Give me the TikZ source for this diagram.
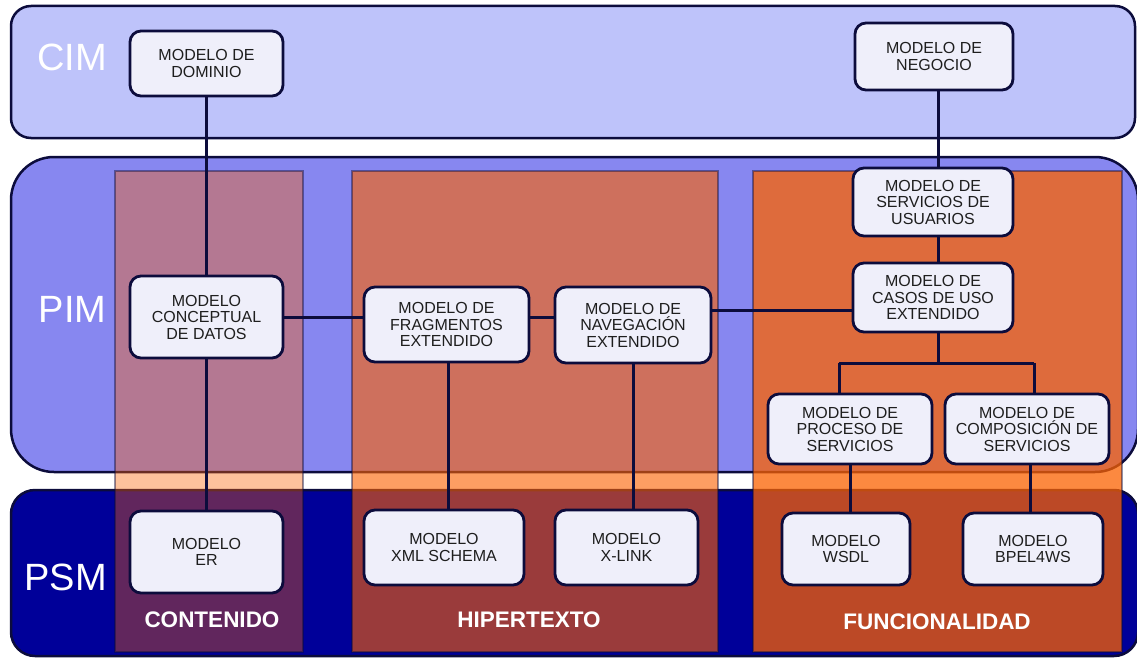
\documentclass[tikz,border=0pt]{standalone}
\usepackage{fontspec}
\setmainfont{Liberation Sans}
\pgfdeclarelayer{bg}
\pgfdeclarelayer{mid}
\pgfsetlayers{bg,mid,main}
\definecolor{edge}{RGB}{12,12,60}
\definecolor{cimfill}{RGB}{190,195,250}
\definecolor{pimfill}{RGB}{135,135,240}
\definecolor{psmfill}{RGB}{0,0,153}
\definecolor{nodefill}{RGB}{239,239,250}
\definecolor{orng}{RGB}{252,98,0}
\definecolor{txt}{RGB}{30,30,30}
\begin{document}
\begin{tikzpicture}[x=1pt,y=-1pt,
  band/.style={draw=edge, line width=2.5pt, rounded corners=#1},
  column/.style={fill=orng, fill opacity=#1, draw=edge, draw opacity=0.45, line width=2pt},
  bandlabel/.style={text=white, font=\fontsize{38}{40}\selectfont, inner sep=0pt},
  collabel/.style={text=white, font=\bfseries\fontsize{22.5}{24}\selectfont, inner sep=0pt},
  mnode/.style={draw=edge, line width=2.8pt, fill=nodefill, rounded corners=11pt,
    text=txt, font=\fontsize{16}{16.5}\selectfont, align=center, inner sep=0pt},
  link/.style={draw=edge, line width=3pt}]

\useasboundingbox (0,0) rectangle (1137,658);

% ---- levels and columns ----
\begin{pgfonlayer}{bg}
  \fill[white] (0,0) rectangle (1137,658);
  \path[band=20pt, fill=cimfill] (11,6) rectangle (1135,138);
  \path[band=43pt, fill=pimfill] (11,157) rectangle (1138,472);
  \path[band=24pt, fill=psmfill] (11,490) rectangle (1138,656);
  \path[column=0.39] (115,171) rectangle (303,652);
  \path[column=0.61] (352,171) rectangle (718,652);
  \path[column=0.75] (753,171) rectangle (1122,652);
\end{pgfonlayer}

\node[bandlabel] (lcim) at (72,57.5) {CIM};
\node[bandlabel] (lpim) at (72.5,309) {PIM};
\node[bandlabel] (lpsm) at (65.5,577) {PSM};

\node[collabel] (lcont) at (212,620) {CONTENIDO};
\node[collabel] (lhip) at (529,620) {HIPERTEXTO};
\node[collabel] (lfun) at (937,622) {FUNCIONALIDAD};

% ---- models ----
\node[mnode, minimum width=153pt, minimum height=65pt] (dom) at (206.5,63.5) {MODELO DE\\DOMINIO};
\node[mnode, minimum width=158pt, minimum height=67pt] (neg) at (934,56.5) {MODELO DE\\NEGOCIO};
\node[mnode, minimum width=153pt, minimum height=82pt] (conc) at (206.5,317) {MODELO\\CONCEPTUAL\\DE DATOS};
\node[mnode, minimum width=165pt, minimum height=75pt] (frag) at (446.5,324.5) {MODELO DE\\FRAGMENTOS\\EXTENDIDO};
\node[mnode, minimum width=156pt, minimum height=76pt] (nav) at (633,325) {MODELO DE\\NAVEGACIÓN\\EXTENDIDO};
\node[mnode, minimum width=160pt, minimum height=68pt] (serv) at (933,202) {MODELO DE\\SERVICIOS DE\\USUARIOS};
\node[mnode, minimum width=160pt, minimum height=69pt] (casos) at (933,297.5) {MODELO DE\\CASOS DE USO\\EXTENDIDO};
\node[mnode, minimum width=164pt, minimum height=70pt] (proc) at (850,429) {MODELO DE\\PROCESO DE\\SERVICIOS};
\node[mnode, minimum width=164pt, minimum height=70pt] (comp) at (1027,429) {MODELO DE\\COMPOSICIÓN DE\\SERVICIOS};
\node[mnode, minimum width=153pt, minimum height=82pt] (er) at (206.5,552) {MODELO\\ER};
\node[mnode, minimum width=160pt, minimum height=75pt] (xml) at (444,547.5) {MODELO\\XML SCHEMA};
\node[mnode, minimum width=143pt, minimum height=75pt] (xlink) at (626.5,547.5) {MODELO\\X-LINK};
\node[mnode, minimum width=128pt, minimum height=72pt] (wsdl) at (846,549) {MODELO\\WSDL};
\node[mnode, minimum width=140pt, minimum height=72pt] (bpel) at (1033,549) {MODELO\\BPEL4WS};

% ---- connectors ----
\coordinate (navout) at ([yshift=15pt]nav.east);
\coordinate (forkl) at (839,363);
\coordinate (forkr) at (1034,363);
\begin{pgfonlayer}{mid}
  \draw[link] (dom.south) -- (conc.north);
  \draw[link] (conc.south) -- (er.north);
  \draw[link] (conc.east) -- (frag.west |- conc.east);
  \draw[link] (frag.east |- conc.east) -- (nav.west |- conc.east);
  \draw[link] (navout) -- (casos.west |- navout);
  \draw[link] ([xshift=2pt]frag.south) -- ([xshift=2pt]frag.south |- xml.north);
  \draw[link] (nav.south) -- (nav.south |- xlink.north);
  \draw[link] ([xshift=4pt]neg.south) -- ([xshift=4pt]neg.south |- serv.north);
  \draw[link] ([xshift=5pt]serv.south) -- ([xshift=5pt]serv.south |- casos.north);
  \draw[link] ([xshift=5pt]casos.south) -- ([xshift=5pt]casos.south |- forkl);
  \draw[link] (forkl) -- (forkr);
  \draw[link] (forkl) -- (forkl |- proc.north);
  \draw[link] (forkr) -- (forkr |- comp.north);
  \draw[link] (proc.south) -- (proc.south |- wsdl.north);
  \draw[link] ([xshift=3pt]comp.south) -- ([xshift=3pt]comp.south |- bpel.north);
\end{pgfonlayer}
\end{tikzpicture}
\end{document}
